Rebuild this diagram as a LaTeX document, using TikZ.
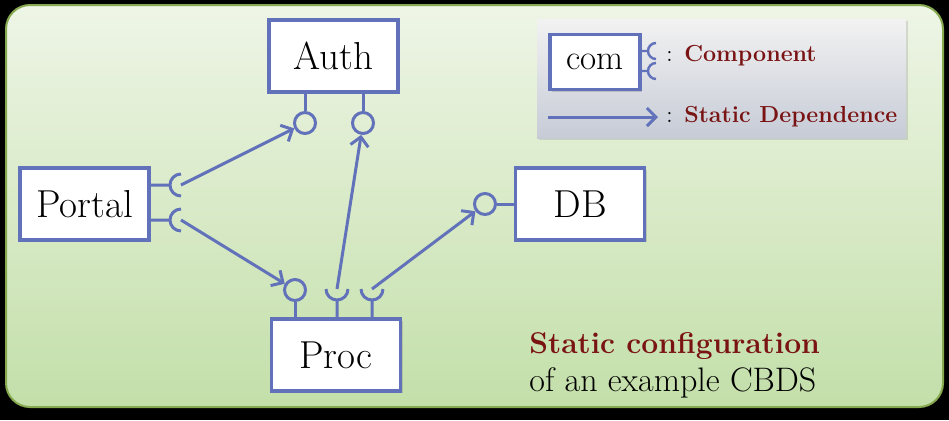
\documentclass[tikz,border=0pt]{standalone}
\usepackage{tikz}
\usetikzlibrary{arrows.meta,positioning,shadows}
\definecolor{lnk}{HTML}{6272BA}
\definecolor{maroon}{HTML}{7A1414}
\definecolor{pantop}{HTML}{EEF5E6}
\definecolor{panbot}{HTML}{C3DFA9}
\definecolor{panedge}{HTML}{86A84E}
\definecolor{legtop}{HTML}{F2F2F2}
\definecolor{legbot}{HTML}{C6CBD6}

\begin{document}
\begin{tikzpicture}[x=0.5pt,y=0.5pt,
  comp/.style={draw=lnk,fill=white,line width=1.75pt,minimum width=64.5pt,
               minimum height=36pt,inner sep=0pt,font=\fontsize{19.5}{22}\selectfont,
               drop shadow={opacity=0.3,shadow xshift=1.2pt,shadow yshift=-1.2pt}},
  lol/.style={circle,draw=lnk,line width=1.5pt,minimum size=10.5pt,inner sep=0pt},
  lnkline/.style={draw=lnk,line width=1.5pt},
  dep/.style={lnkline,-{Straight Barb[length=4.5pt,width=9pt]}},
  note/.style={font=\fontsize{11.6}{14}\selectfont\bfseries,text=maroon,anchor=west,inner sep=0pt}]
% background and panel
\fill[black] (0,0) rectangle (949,-420);
\draw[top color=pantop,bottom color=panbot,draw=panedge,line width=1pt,rounded corners=12pt]
  (6,-5) rectangle (943,-407);
\path[top color=legtop,bottom color=legbot,drop shadow={opacity=0.25,shadow xshift=0.8pt,shadow yshift=-1.2pt}]
  (537,-19) rectangle (906,-138);
% components
\node[comp] (auth) at (333.5,-56) {Auth};
\node[comp] (portal) at (84.5,-204) {Portal};
\node[comp] (proc) at (336,-355) {Proc};
\node[comp] (db) at (580,-204) {DB};
\node[comp,minimum width=45pt,minimum height=27.5pt,font=\fontsize{17.5}{20}\selectfont] (com) at (595,-62) {com};
% provided interfaces
\node[lol] (a1) at (305,-123) {};
\node[lol] (a2) at (363,-123) {};
\node[lol] (p1) at (295,-290) {};
\node[lol] (d1) at (485,-204) {};
\foreach \l in {a1,a2}{\draw[lnkline] (\l) -- (\l |- auth.south);}
\draw[lnkline] (p1) -- (p1 |- proc.north);
\draw[lnkline] (d1) -- (db.west);
% required interfaces
\coordinate (ps1) at (181,-185);
\coordinate (ps2) at (181,-220);
\coordinate (pc2) at (337,-289);
\coordinate (pc3) at (372,-289);
\coordinate (cs1) at (656,-51);
\coordinate (cs2) at (656,-71);
\foreach \s in {ps1,ps2}{\draw[lnkline] (portal.east |- \s) -- ([xshift=-5.5pt]\s)
  ([yshift=5.5pt]\s) arc[start angle=90,end angle=270,radius=5.5pt];}
\foreach \s in {pc2,pc3}{\draw[lnkline] (proc.north -| \s) -- ([yshift=-5.5pt]\s)
  ([xshift=-5.5pt]\s) arc[start angle=180,end angle=360,radius=5.5pt];}
\foreach \s in {cs1,cs2}{\draw[lnkline,line width=1.2pt] (com.east |- \s) -- ([xshift=-4pt]\s)
  ([yshift=4pt]\s) arc[start angle=90,end angle=270,radius=4pt];}
% dependences
\draw[dep] (ps1) -- (a1);
\draw[dep] (ps2) -- (p1);
\draw[dep] (pc2) -- (a2);
\draw[dep] (pc3) -- (d1);
% legend
\coordinate (lg1) at (548,-117);
\coordinate (lg2) at (658,-117);
\draw[dep] (lg1) -- (lg2);
\node[note] (lgcomp) at (666,-56) {{\mdseries\color{black}:} Component};
\node[note] (lgdep) at (666,-117) {{\mdseries\color{black}:} Static Dependence};
\node[align=left,anchor=north west,inner sep=0pt] (cap)
  at (529,-332) {{\fontsize{15}{18.5}\selectfont\color{maroon}\bfseries Static configuration}\\[3pt]
  {\fontsize{17}{18.5}\selectfont of an example CBDS}};
\end{tikzpicture}
\end{document}
